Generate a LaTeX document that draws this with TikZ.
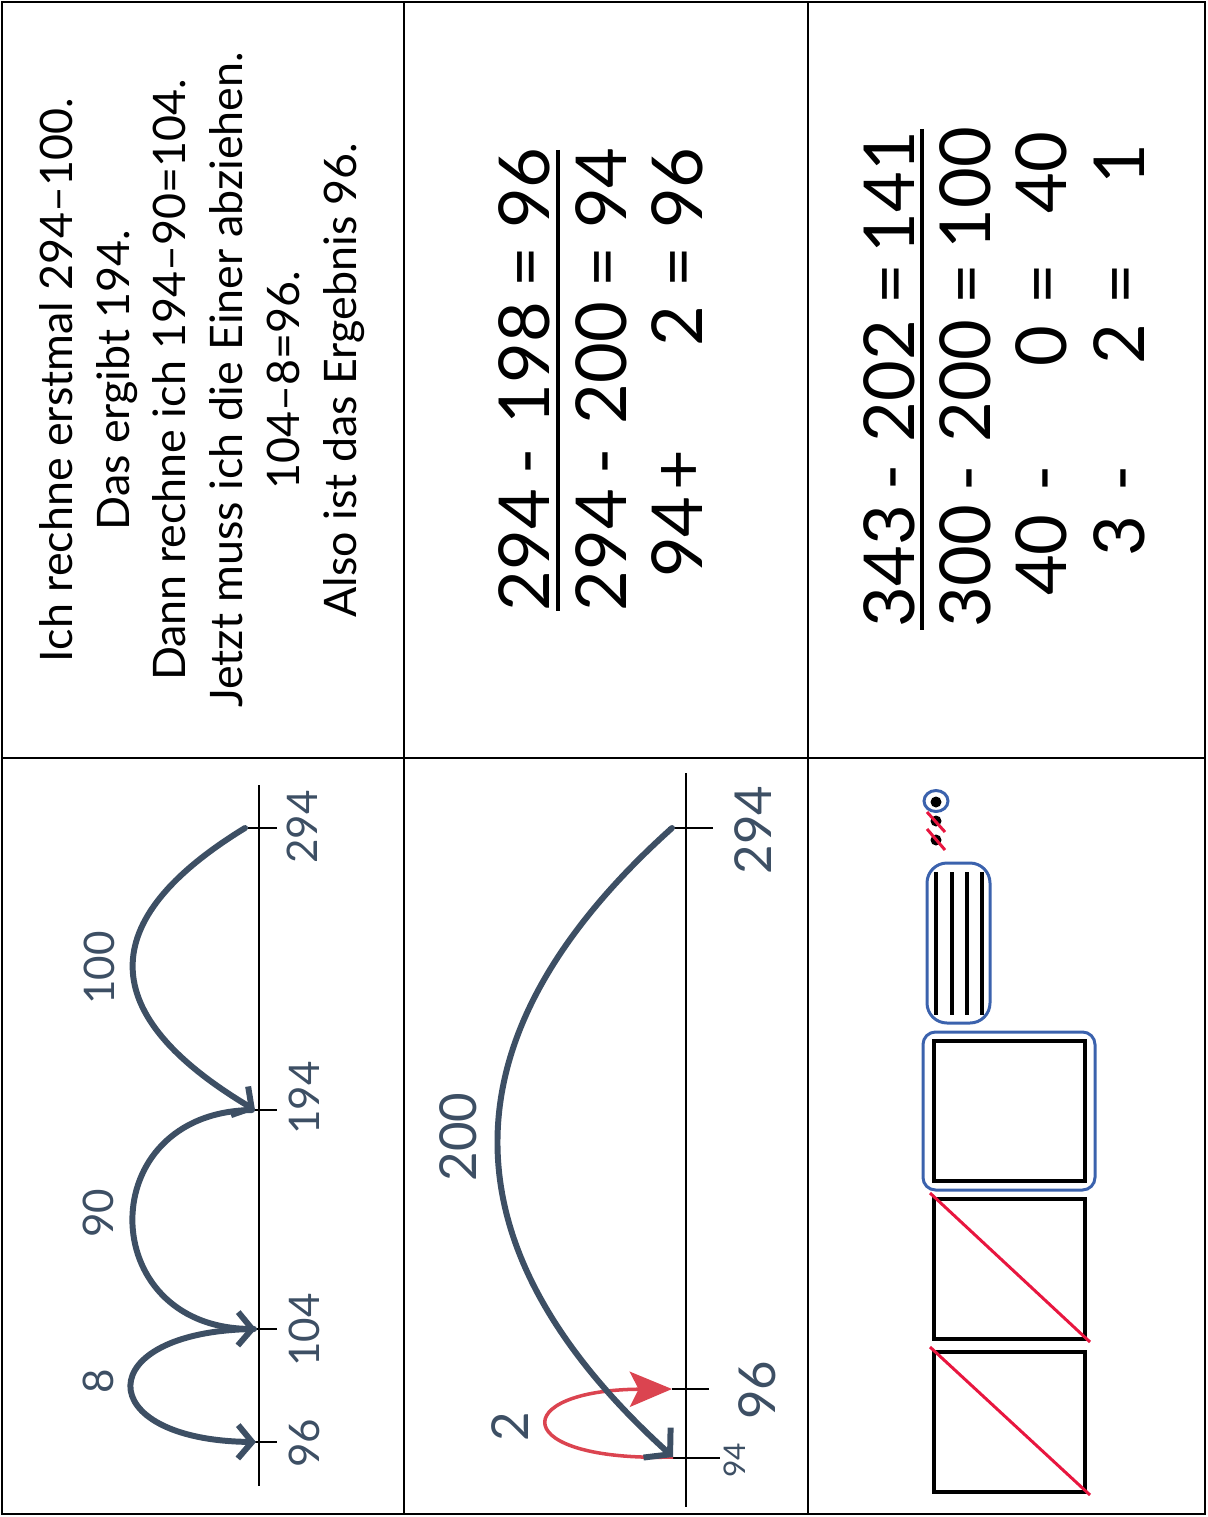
\documentclass[tikz,border=0pt]{standalone}
\usepackage{fontspec}
\setmainfont{Lato}
\usetikzlibrary{
    arrows.meta,
    positioning
}
\definecolor{slate}{RGB}{61,79,100}
\definecolor{jumpred}{RGB}{219,68,80}
\definecolor{strike}{RGB}{232,22,63}
\definecolor{ringblue}{RGB}{59,98,173}
\tikzset{
  frame/.style   = {draw, line width=1.6pt},
  axis/.style    = {draw, line width=1.1pt},
  tick/.style    = {draw, line width=1.1pt},
  jump/.style    = {draw=slate, line width=3.4pt, line cap=round,
                    -{Straight Barb[length=8pt,width=19pt]}},
  back/.style    = {draw=jumpred, line width=2pt,
                    -{Stealth[length=24pt,width=20pt,inset=5pt]}},
  lblS/.style    = {rotate=90, inner sep=0pt, text=slate,
                    font=\fontsize{17}{17}\selectfont, text height=12pt, text depth=0pt},
  lblM/.style    = {rotate=90, inner sep=0pt, text=slate,
                    font=\fontsize{24}{24}\selectfont, text height=17pt, text depth=0pt},
  lblL/.style    = {rotate=90, inner sep=0pt, text=slate,
                    font=\fontsize{29}{29}\selectfont, text height=21pt, text depth=0pt},
  eq/.style      = {rotate=90, inner sep=0pt,
                    font=\fontsize{40}{40}\selectfont, text height=29pt, text depth=0pt},
  rulebar/.style = {draw, line width=2.4pt},
  block/.style   = {draw, line width=2.3pt},
  ring/.style    = {draw=ringblue, line width=1.7pt},
  cross/.style   = {draw=strike, line width=1.7pt}
}

\begin{document}
\begin{tikzpicture}[x=0.02cm, y=-0.02cm]
\useasboundingbox (0,0) rectangle (1207,1517);

%% --- Table ---
\draw[frame] (2,2) rectangle (1205,1514);
\draw[frame] (404,2) -- (404,1514);
\draw[frame] (808,2) -- (808,1514);
\draw[frame] (2,758) -- (1205,758);

%% --- Cell 1: explanation ---
\node[rotate=90, align=center, inner sep=0pt,
      font=\fontsize{25.5}{32.4}\selectfont] (story) at (202,380) {%
  Ich rechne erstmal 294–100.\\
  Das ergibt 194.\\
  Dann rechne ich 194–90=104.\\
  Jetzt muss ich die Einer abziehen.\\
  104–8=96.\\
  Also ist das Ergebnis 96.};

%% --- Cell 2: compensation ---
\node[eq] (m1a) at (524,550) {294};
\node[eq] (m1b) at (524,461) {-};
\node[eq] (m1c) at (524,363) {198};
\node[eq] (m1d) at (524,267) {=};
\node[eq] (m1e) at (524,188) {96};

\node[eq] (m2a) at (601,550) {294};
\node[eq] (m2b) at (601,461) {-};
\node[eq] (m2c) at (601,363) {200};
\node[eq] (m2d) at (601,267) {=};
\node[eq] (m2e) at (601,188) {94};

\node[eq] (m3a) at (677,537) {94};
\node[eq] (m3b) at (677,470) {+};
\node[eq] (m3c) at (677,326) {2};
\node[eq] (m3d) at (677,267) {=};
\node[eq] (m3e) at (677,188) {96};

\draw[rulebar] (558,150) -- (558,611);

%% --- Cell 3: place values ---
\node[eq] (r1a) at (889,566) {343};
\node[eq] (r1b) at (889,477) {-};
\node[eq] (r1c) at (889,381) {202};
\node[eq] (r1d) at (889,284) {=};
\node[eq] (r1e) at (889,192) {141};

\node[eq] (r2a) at (965,566) {300};
\node[eq] (r2b) at (965,478) {-};
\node[eq] (r2c) at (965,381) {200};
\node[eq] (r2d) at (965,284) {=};
\node[eq] (r2e) at (965,188) {100};

\node[eq] (r3a) at (1041,555) {40};
\node[eq] (r3b) at (1041,478) {-};
\node[eq] (r3c) at (1041,346) {0};
\node[eq] (r3d) at (1041,284) {=};
\node[eq] (r3e) at (1041,173) {40};

\node[eq] (r4a) at (1119,536) {3};
\node[eq] (r4b) at (1119,478) {-};
\node[eq] (r4c) at (1119,344) {2};
\node[eq] (r4d) at (1119,284) {=};
\node[eq] (r4e) at (1119,164) {1};

\draw[rulebar] (922,129) -- (922,630);

%% --- Cell 4: number line, steps ---
\draw[axis] (259,785) -- (259,1486);
\coordinate (a294) at (259,828);
\coordinate (a194) at (259,1110);
\coordinate (a104) at (259,1329);
\coordinate (a96)  at (259,1442);
\foreach \p in {a294,a194,a104,a96}
  \draw[tick] (\p) ++(-11,0) -- ++(29,0);

\node[lblM] (n294) at (303,827)  {294};
\node[lblM] (n194) at (305,1098) {194};
\node[lblM] (n104) at (305,1330) {104};
\node[lblM] (n96)  at (305,1443) {96};

\coordinate (s294) at (245,828);
\coordinate (e194) at (255,1110);
\coordinate (s194) at (252,1110);
\coordinate (e104) at (256,1329);
\coordinate (s104) at (254,1329);
\coordinate (e96)  at (256,1442);

\draw[jump] (s294) .. controls (93,921) and (96,1015) .. (e194);
\draw[jump] (s194) .. controls (92,1112) and (94,1327) .. (e104);
\draw[jump] (s104) .. controls (90,1331) and (90,1440) .. (e96);

\node[lblM] (j100) at (100,968)  {100};
\node[lblM] (j90)  at (99,1213)  {90};
\node[lblM] (j8)   at (99,1381)  {8};

%% --- Cell 5: number line, compensation ---
\draw[axis] (686,773) -- (686,1507);
\coordinate (b294) at (686,828);
\coordinate (b96)  at (686,1389);
\coordinate (b94)  at (686,1458);
\draw[tick] (b294) ++(-18,0) -- ++(45,0);
\draw[tick] (b96)  ++(-14,0) -- ++(37,0);
\draw[tick] (b94)  ++(-14,0) -- ++(48,0);

\node[lblL] (k294) at (753,830)  {294};
\node[lblL] (k96)  at (757,1390) {96};
\node[lblS] (k94)  at (735,1460) {94};

\coordinate (t294) at (672,828);
\coordinate (t94)  at (673,1457);
\coordinate (t96)  at (672,1389);

\draw[back] (t94) .. controls (508,1462) and (508,1390) .. (t96);
\draw[jump, -{Straight Barb[length=10pt,width=23pt]}]
  (t294) .. controls (440,1036) and (440,1246) .. (t94);

\node[lblL] (k200) at (458,1137) {200};
\node[lblL] (k2)   at (510,1427) {2};

%% --- Cell 6: base-ten blocks ---
\fill (936,802) circle (5.5);
\fill (936,821) circle (5.5);
\fill (936,840) circle (5.5);
\draw[ring] (936,801) ellipse [x radius=12, y radius=10.5];
\draw[cross] (927,812) -- (945,832);
\draw[cross] (927,829) -- (945,850);

\draw[ring, rounded corners=0.4cm] (927,863) rectangle (990,1023);
\foreach \x in {936,952,967,982}
  \draw[block] (\x,872) -- (\x,1015);

\draw[ring, rounded corners=0.25cm] (923,1032) rectangle (1095,1190);
\foreach \y in {1041,1199,1352}
  \draw[block] (934,\y) rectangle (1085,\y+140);
\draw[cross] (930,1193) -- (1090,1342);
\draw[cross] (930,1347) -- (1090,1495);

\end{tikzpicture}
\end{document}
